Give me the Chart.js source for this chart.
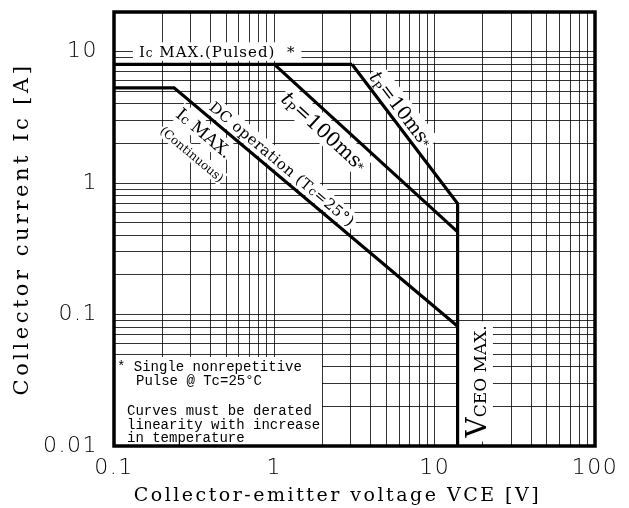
<!DOCTYPE html>
<html>
<head>
<meta charset="utf-8">
<script src="https://cdn.jsdelivr.net/npm/chart.js@4.4.1/dist/chart.umd.min.js"></script>
<style>
  html, body { margin: 0; padding: 0; background: #fff; overflow: hidden; }
</style>
</head>
<body>
<canvas id="soa" width="629" height="508"></canvas>
<script>
// valeurs (tension en V, courant en A)
const pulsedV = [0.1, 3.05]
const pulsedI = [8, 8]
const tp10V = [3.05, 13.9, 13.9]
const tp10I = [8, 0.70, 0.01]
const tp100V = [1.0, 13.9]
const tp100I = [8, 0.425]
const dcV = [0.1, 0.237, 13.9]
const dcI = [5.3, 5.3, 0.0815]

// graduations
const xTickValues = [0.1, 1, 10, 100]
const xTickLabels = ["0.1", "1", "10", "100"]
const yTickValues = [0.01, 0.1, 1, 10]
const yTickLabels = ["0.01", "0.1", "1", "10"]
const xDecades = [0.1, 1, 10]
const yDecades = [0.01, 0.1, 1, 10]

// lignes de grille : 1..9 pour chaque decade
function gridValues(decades, max){
    let out = []
    decades.forEach(d => {
        for (let k = 1; k <= 9; k++){
            let v = +(d * k).toPrecision(6)
            if (v <= max) out.push(v)
        }
    })
    out.push(max)
    return out
}
const xGrid = gridValues(xDecades, 100)
const yGrid = gridValues(yDecades, 20)

function toPoints(xs, ys){
    return xs.map((x, i) => ({x: x, y: ys[i]}))
}

function labelFor(values, labels, v){
    let idx = values.findIndex(m => Math.abs(m - v) / m < 1e-6)
    return idx >= 0 ? labels[idx] : ""
}

const lineStyle = {borderColor: "#000", borderWidth: 3.2, pointRadius: 0, fill: false, tension: 0}

// texte sur plusieurs morceaux (tailles differentes), fond blanc
function drawRich(ctx, segs, cx, cy, angle, pad, spacing){
    let w = 0, h = 0
    ctx.save()
    ctx.letterSpacing = (spacing || 0) + "px"
    segs.forEach(s => {
        ctx.font = (s.style || "") + " " + s.size + "px 'DejaVu Serif'"
        s.w = ctx.measureText(s.t).width
        w += s.w
        h = Math.max(h, s.size)
    })
    ctx.translate(cx, cy)
    ctx.rotate(angle)
    ctx.fillStyle = "#fff"
    ctx.fillRect(-w / 2 - pad, -h * 0.62, w + 2 * pad, h * 1.24)
    ctx.fillStyle = "#000"
    ctx.textBaseline = "alphabetic"
    let x = -w / 2
    segs.forEach(s => {
        ctx.font = (s.style || "") + " " + s.size + "px 'DejaVu Serif'"
        ctx.fillText(s.t, x, h * 0.36 + (s.dy || 0))
        x += s.w
    })
    ctx.restore()
}

function slope(sx, sy, xs, ys, i, j){
    let x1 = sx.getPixelForValue(xs[i]), y1 = sy.getPixelForValue(ys[i])
    let x2 = sx.getPixelForValue(xs[j]), y2 = sy.getPixelForValue(ys[j])
    return Math.atan2(y2 - y1, x2 - x1)
}

// espacement des lettres pour les titres et graduations (texte "machine a ecrire")
function spaced(fn, px){
    return function(){
        const ctx = this.ctx
        const old = ctx.letterSpacing
        ctx.letterSpacing = px + "px"
        fn.apply(this, arguments)
        ctx.letterSpacing = old
    }
}

const annotations = {
    id: "annotations",
    afterLayout(chart){
        const sx = chart.scales.x, sy = chart.scales.y
        if (!sx._spaced){
            sx.drawTitle = spaced(sx.drawTitle, 2.5)
            sx.drawLabels = spaced(sx.drawLabels, 1.5)
            sx._spaced = true
        }
        if (!sy._spaced){
            sy.drawTitle = spaced(sy.drawTitle, 3.5)
            sy.drawLabels = spaced(sy.drawLabels, 1.5)
            sy._spaced = true
        }
    },
    beforeDatasetsDraw(chart){
        const ctx = chart.ctx
        const sx = chart.scales.x, sy = chart.scales.y
        const P = (x, y) => [sx.getPixelForValue(x), sy.getPixelForValue(y)]

        let p = P(0.44, 10)
        drawRich(ctx, [{t: "I", size: 15}, {t: "c", size: 12}, {t: " MAX.(Pulsed)  *", size: 15}], p[0], p[1], 0, 6, 1)

        p = P(2.05, 2.49)
        drawRich(ctx, [{t: "t", size: 20, style: "italic"}, {t: "P", size: 13, dy: 3}, {t: "=100ms", size: 20}, {t: "*", size: 12}],
            p[0], p[1], slope(sx, sy, tp100V, tp100I, 0, 1), 2)

        p = P(6.2, 3.67)
        drawRich(ctx, [{t: "t", size: 19, style: "italic"}, {t: "P", size: 12, dy: 3}, {t: "=10ms", size: 19}, {t: "*", size: 12}],
            p[0], p[1], slope(sx, sy, tp10V, tp10I, 0, 1), 2)

        p = P(1.12, 1.40)
        drawRich(ctx, [{t: "DC operation (T", size: 15}, {t: "c", size: 12}, {t: "=25°)", size: 15}],
            p[0], p[1], slope(sx, sy, dcV, dcI, 1, 2), 2, 0.5)

        p = P(0.365, 2.41)
        drawRich(ctx, [{t: "I", size: 17}, {t: "c", size: 13}, {t: " MAX.", size: 17}],
            p[0], p[1], slope(sx, sy, dcV, dcI, 1, 2), 1)

        p = P(0.307, 1.66)
        drawRich(ctx, [{t: "(Continuous)", size: 12}], p[0], p[1], slope(sx, sy, dcV, dcI, 1, 2), 1)

        p = P(18, 0.031)
        drawRich(ctx, [{t: "V", size: 28}, {t: "CEO MAX.", size: 17}], p[0], p[1], -Math.PI / 2, 4)

        // encadre de notes en bas a gauche
        const a = chart.chartArea
        ctx.save()
        ctx.fillStyle = "#fff"
        ctx.fillRect(a.left, a.bottom - 89, 208, 89)
        ctx.fillStyle = "#000"
        ctx.font = "14px 'Liberation Mono'"
        ctx.textBaseline = "alphabetic"
        ctx.fillText("* Single nonrepetitive", a.left + 3, a.bottom - 75)
        ctx.fillText("Pulse @ Tc=25°C", a.left + 22, a.bottom - 61)
        ctx.fillText("Curves must be derated", a.left + 13, a.bottom - 31)
        ctx.fillText("linearity with increase", a.left + 13, a.bottom - 17)
        ctx.fillText("in temperature", a.left + 13, a.bottom - 4)
        ctx.restore()
    },
    afterDraw(chart){
        const a = chart.chartArea
        const ctx = chart.ctx
        ctx.save()
        ctx.strokeStyle = "#000"
        ctx.lineWidth = 3.5
        ctx.strokeRect(a.left, a.top, a.right - a.left, a.bottom - a.top)
        ctx.restore()
    }
}

function noPad(s){
    s.paddingTop = 0
    s.paddingBottom = 0
    s.paddingLeft = 0
    s.paddingRight = 0
}

new Chart(document.getElementById("soa"), {
    type: "line",
    data: {
        datasets: [
            Object.assign({label: "Ic max pulsed", data: toPoints(pulsedV, pulsedI)}, lineStyle),
            Object.assign({label: "tP=10ms", data: toPoints(tp10V, tp10I)}, lineStyle),
            Object.assign({label: "tP=100ms", data: toPoints(tp100V, tp100I)}, lineStyle),
            Object.assign({label: "DC", data: toPoints(dcV, dcI)}, lineStyle),
        ]
    },
    options: {
        responsive: false,
        animation: false,
        devicePixelRatio: 1,
        layout: {padding: {top: 12, right: 34, left: 0, bottom: 0}},
        plugins: {legend: {display: false}, tooltip: {enabled: false}},
        scales: {
            x: {
                type: "logarithmic",
                min: 0.1,
                max: 100,
                afterBuildTicks: s => { s.ticks = xGrid.map(v => ({value: v})) },
                afterFit: s => { s.height = 62; noPad(s) },
                grid: {color: "rgba(0,0,0,0.8)", lineWidth: 1, drawTicks: false},
                border: {display: false},
                ticks: {
                    autoSkip: false,
                    maxRotation: 0,
                    padding: 9,
                    color: "#000",
                    font: {family: "'DejaVu Sans'", size: 22, weight: "200"},
                    callback: v => labelFor(xTickValues, xTickLabels, v)
                },
                title: {
                    display: true,
                    text: "Collector-emitter voltage VCE [V]    ",
                    color: "#000",
                    font: {family: "'DejaVu Serif'", size: 19},
                    padding: {top: 0, bottom: 1}
                }
            },
            y: {
                type: "logarithmic",
                min: 0.01,
                max: 20,
                afterBuildTicks: s => { s.ticks = yGrid.map(v => ({value: v})) },
                afterFit: s => { s.width = 114; noPad(s) },
                grid: {color: "rgba(0,0,0,0.8)", lineWidth: 1, drawTicks: false},
                border: {display: false},
                ticks: {
                    autoSkip: false,
                    padding: 16,
                    color: "#000",
                    font: {family: "'DejaVu Sans'", size: 22, weight: "200"},
                    callback: v => labelFor(yTickValues, yTickLabels, v)
                },
                title: {
                    display: true,
                    text: "Collector current Ic [A]",
                    color: "#000",
                    font: {family: "'DejaVu Serif'", size: 21},
                    padding: {top: 10, bottom: 0}
                }
            }
        }
    },
    plugins: [annotations]
})
</script>
</body>
</html>
